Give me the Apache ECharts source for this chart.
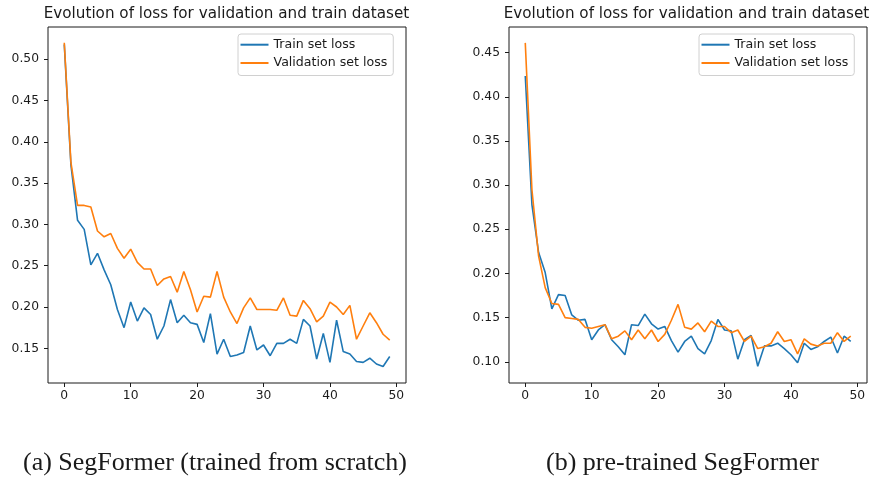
<!DOCTYPE html>
<html>
<head>
<meta charset="utf-8">
<script src="https://cdn.jsdelivr.net/npm/echarts@6/dist/echarts.min.js"></script>
<style>
  html, body { margin: 0; padding: 0; background: #fff; }
  #chart { width: 875px; height: 477px; }
</style>
</head>
<body>
<div id="chart"></div>
<script>
'use strict';

// epochs 0..49
var epochs = [];
for (var e = 0; e < 50; e++) { epochs.push(e); }

// (a) trained from scratch
var scratchTrain = [0.518, 0.372, 0.305, 0.294, 0.251, 0.265, 0.245, 0.227, 0.197, 0.175,
    0.206, 0.183, 0.199, 0.191, 0.161, 0.177, 0.209, 0.181, 0.190, 0.181,
    0.179, 0.157, 0.192, 0.143, 0.161, 0.140, 0.142, 0.145, 0.177, 0.148,
    0.154, 0.141, 0.156, 0.156, 0.161, 0.156, 0.185, 0.177, 0.137, 0.168,
    0.133, 0.184, 0.146, 0.143, 0.134, 0.133, 0.138, 0.131, 0.128, 0.140];
var scratchVal = [0.520, 0.375, 0.323, 0.323, 0.321, 0.292, 0.285, 0.289, 0.271, 0.259,
    0.270, 0.254, 0.246, 0.246, 0.226, 0.234, 0.237, 0.218, 0.243, 0.221,
    0.194, 0.213, 0.212, 0.243, 0.212, 0.194, 0.180, 0.199, 0.211, 0.197,
    0.197, 0.197, 0.196, 0.211, 0.190, 0.189, 0.208, 0.198, 0.182, 0.189,
    0.206, 0.200, 0.191, 0.202, 0.161, 0.177, 0.193, 0.181, 0.167, 0.160];

// (b) pre-trained
var pretrainedTrain = [0.4235, 0.278, 0.224, 0.201, 0.160, 0.176, 0.175, 0.153, 0.147, 0.148,
    0.125, 0.136, 0.142, 0.125, 0.117, 0.108, 0.142, 0.141, 0.154, 0.143,
    0.137, 0.140, 0.124, 0.111, 0.123, 0.129, 0.115, 0.109, 0.124, 0.148,
    0.136, 0.135, 0.103, 0.125, 0.130, 0.095, 0.118, 0.118, 0.121, 0.115,
    0.108, 0.099, 0.121, 0.114, 0.117, 0.123, 0.128, 0.110, 0.129, 0.123];
var pretrainedVal = [0.461, 0.295, 0.220, 0.184, 0.166, 0.165, 0.150, 0.149, 0.148, 0.139,
    0.138, 0.140, 0.142, 0.126, 0.129, 0.135, 0.125, 0.136, 0.126, 0.136,
    0.123, 0.131, 0.147, 0.165, 0.139, 0.137, 0.144, 0.134, 0.146, 0.140,
    0.140, 0.133, 0.136, 0.123, 0.129, 0.115, 0.117, 0.121, 0.134, 0.123,
    0.125, 0.109, 0.126, 0.120, 0.118, 0.121, 0.121, 0.133, 0.123, 0.129];

var xTicks = [0, 10, 20, 30, 40, 50];
var yTicksA = [0.15, 0.20, 0.25, 0.30, 0.35, 0.40, 0.45, 0.50];
var yTicksB = [0.10, 0.15, 0.20, 0.25, 0.30, 0.35, 0.40, 0.45];

var titleText = 'Evolution of loss for validation and train dataset';
var captionA = '(a) SegFormer (trained from scratch)';
var captionB = '(b) pre-trained SegFormer';
var names = ['Train set loss', 'Validation set loss'];

function pairs(ys) {
    return ys.map(function (v, i) { return [epochs[i], v]; });
}

var FONT = 'DejaVu Sans';
var INK = '#1a1a1a';

function xAxisFor(idx) {
    return {
        type: 'value', gridIndex: idx, min: -2.45, max: 51.45,
        axisLine: { show: false, onZero: false },
        splitLine: { show: false },
        axisTick: { show: true, length: 4, customValues: xTicks, lineStyle: { color: INK, width: 1 } },
        axisLabel: { customValues: xTicks, margin: 7, color: INK, fontFamily: FONT, fontSize: 12.3 }
    };
}
function yAxisFor(idx, mn, mx, ticks) {
    return {
        type: 'value', gridIndex: idx, min: mn, max: mx,
        axisLine: { show: false, onZero: false },
        splitLine: { show: false },
        axisTick: { show: true, length: 4, customValues: ticks, lineStyle: { color: INK, width: 1 } },
        axisLabel: {
            customValues: ticks, margin: 9, color: INK, fontFamily: FONT, fontSize: 12.3,
            formatter: function (v) { return v.toFixed(2); }
        }
    };
}
function legendFor(left) {
    return {
        data: names, orient: 'vertical', left: left, top: 34,
        icon: 'rect', itemWidth: 28, itemHeight: 2, itemGap: 3.3, itemTextGap: 9,
        padding: [3.2, 6, 5, 2.5],
        borderColor: '#d0d0d0', borderWidth: 1, borderRadius: 3, backgroundColor: '#fff',
        textStyle: { color: INK, fontFamily: FONT, fontSize: 12.6, lineHeight: 15 },
        selectedMode: false
    };
}
function lineSeries(name, color, data, idx) {
    return {
        name: name, type: 'line', xAxisIndex: idx, yAxisIndex: idx,
        data: pairs(data), showSymbol: false, symbol: 'none',
        lineStyle: { color: color, width: 1.6 }, itemStyle: { color: color },
        animation: false, z: name === names[0] ? 2 : 3
    };
}

var chart = echarts.init(document.getElementById('chart'), null, { renderer: 'canvas' });

var options = {
    backgroundColor: '#fff',
    animation: false,
    color: ['#1f77b4', '#ff7f0e'],
    grid: [
        { left: 48, right: 469, top: 27, bottom: 94, show: true, borderColor: INK, borderWidth: 1, backgroundColor: 'transparent' },
        { left: 509, right: 8, top: 27, bottom: 94, show: true, borderColor: INK, borderWidth: 1, backgroundColor: 'transparent' }
    ],
    xAxis: [xAxisFor(0), xAxisFor(1)],
    yAxis: [yAxisFor(0, 0.108, 0.539, yTicksA), yAxisFor(1, 0.076, 0.479, yTicksB)],
    legend: [legendFor(238), legendFor(699)],
    graphic: [
        { type: 'text', x: 226.5, y: 14.5, style: { text: titleText, textAlign: 'center', textVerticalAlign: 'middle', font: '15.2px "DejaVu Sans"', fill: INK } },
        { type: 'text', x: 686.5, y: 14.5, style: { text: titleText, textAlign: 'center', textVerticalAlign: 'middle', font: '15.2px "DejaVu Sans"', fill: INK } },
        { type: 'text', x: 215, y: 463, style: { text: captionA, textAlign: 'center', textVerticalAlign: 'middle', font: '26px "Liberation Serif"', fill: INK } },
        { type: 'text', x: 682.5, y: 463, style: { text: captionB, textAlign: 'center', textVerticalAlign: 'middle', font: '26px "Liberation Serif"', fill: INK } }
    ],
    series: [
        lineSeries(names[0], '#1f77b4', scratchTrain, 0),
        lineSeries(names[1], '#ff7f0e', scratchVal, 0),
        lineSeries(names[0], '#1f77b4', pretrainedTrain, 1),
        lineSeries(names[1], '#ff7f0e', pretrainedVal, 1)
    ]
};

chart.setOption(options);
chart.resize();
window.onresize = function () {
    chart.resize();
};
</script>
</body>
</html>
